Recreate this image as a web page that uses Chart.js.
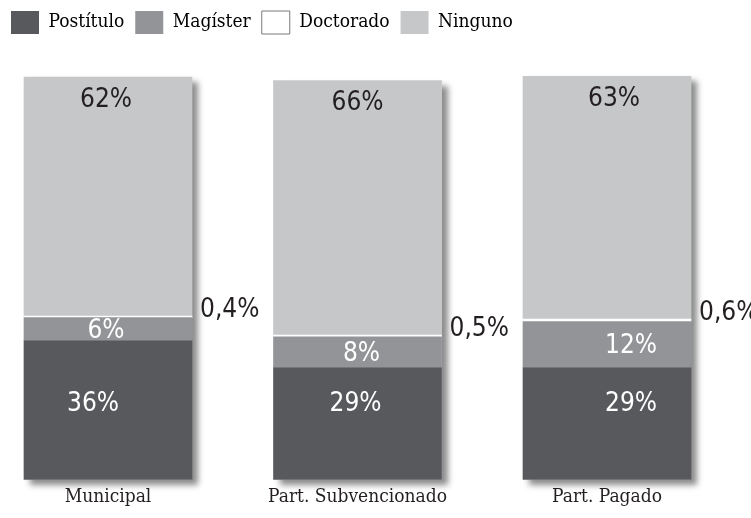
<!DOCTYPE html>
<html>
<head>
<meta charset="utf-8">
<script src="https://cdn.jsdelivr.net/npm/chart.js@4"></script>
<style>
  html, body { margin: 0; padding: 0; background: #fff; }
  #wrap { width: 751px; height: 518px; }
</style>
</head>
<body>
<div id="wrap"><canvas id="chart" width="751" height="518"></canvas></div>
<script>
const categories = ["Municipal", "Part. Subvencionado", "Part. Pagado"];
const postitulo = [36, 29, 29];
const magister = [6, 8, 12];
const doctorado = [0.4, 0.5, 0.6];
const ninguno = [62, 66, 63];

const serieNames = ["Postítulo", "Magíster", "Doctorado", "Ninguno"];
const colors = ["#58595d", "#939497", "#ffffff", "#c6c7c9"];

const labelFont = "'Liberation Sans Narrow', 'DejaVu Sans Condensed', sans-serif";
const slabFont = "'DejaVu Serif Condensed', 'DejaVu Serif', serif";

function fmt(v) {
  return String(v).replace(".", ",") + "%";
}

// sombra detras de cada columna apilada
const shadowPlugin = {
  id: "barShadow",
  beforeDatasetsDraw(chart) {
    const ctx = chart.ctx;
    const first = chart.getDatasetMeta(0).data;
    const last = chart.getDatasetMeta(chart.data.datasets.length - 1).data;
    ctx.save();
    ctx.shadowColor = "rgba(0,0,0,0.45)";
    ctx.shadowBlur = 6;
    ctx.shadowOffsetX = 6;
    ctx.shadowOffsetY = 5;
    ctx.fillStyle = "#fff";
    first.forEach((bar, i) => {
      const top = last[i].y;
      const bottom = bar.base;
      ctx.fillRect(bar.x - bar.width / 2, top, bar.width, bottom - top);
    });
    ctx.restore();
  }
};

// etiquetas de porcentaje
const valuePlugin = {
  id: "values",
  afterDatasetsDraw(chart, args, opts) {
    const ctx = chart.ctx;
    const y = chart.scales.y;
    ctx.save();
    ctx.font = "26px " + labelFont;
    ctx.textAlign = "center";
    ctx.textBaseline = "middle";
    const metas = [0, 1, 2, 3].map(i => chart.getDatasetMeta(i).data);
    categories.forEach((c, i) => {
      const nudge = opts.nudge[i];
      const p = metas[0][i], m = metas[1][i], d = metas[2][i], n = metas[3][i];
      // Postítulo
      ctx.fillStyle = "#fff";
      ctx.fillText(fmt(postitulo[i]), p.x + nudge[0], y.getPixelForValue(20) + 2);
      // Magíster
      ctx.fillText(fmt(magister[i]), m.x + nudge[1], (m.y + m.base) / 2 + 2);
      // Ninguno
      ctx.fillStyle = "#231f20";
      ctx.fillText(fmt(ninguno[i]), n.x + nudge[2], n.y + 23);
      // Doctorado, fuera de la barra
      ctx.textAlign = "left";
      ctx.fillText(fmt(doctorado[i]), d.x + d.width / 2 + 8, d.y - 6);
      ctx.textAlign = "center";
    });
    ctx.restore();
  }
};

const datasets = [postitulo, magister, doctorado, ninguno].map((vals, i) => ({
  label: serieNames[i],
  data: vals,
  backgroundColor: colors[i],
  borderWidth: 0,
  barThickness: 168,
  clip: false,
  stack: "s"
}));

// ejes invisibles que reservan el margen izquierdo y derecho
const spacer = (w, pos) => ({
  position: pos,
  display: true,
  grid: { display: false },
  border: { display: false },
  ticks: { display: false },
  afterFit(scale) { scale.width = w; }
});

new Chart(document.getElementById("chart"), {
  type: "bar",
  data: { labels: categories, datasets },
  plugins: [shadowPlugin, valuePlugin],
  options: {
    responsive: false,
    animation: false,
    layout: { padding: { left: 0, right: 0, top: 0, bottom: 3 } },
    scales: {
      x: {
        stacked: true,
        offset: false,
        grid: { display: false, drawTicks: false, tickLength: 0 },
        border: { display: false },
        ticks: {
          color: "#231f20",
          font: { family: slabFont, size: 19, lineHeight: 0.5 },
          padding: 13,
          maxRotation: 0,
          autoSkip: false
        }
      },
      y: Object.assign(spacer(108, "left"), { stacked: true, min: 0, max: 113 }),
      yRight: spacer(144, "right")
    },
    plugins: {
      legend: {
        position: "top",
        align: "start",
        labels: {
          boxWidth: 28,
          boxHeight: 23,
          padding: 11,
          color: "#231f20",
          font: { family: slabFont, size: 19 },
          generateLabels(chart) {
            return chart.data.datasets.map((ds, i) => ({
              text: ds.label,
              fillStyle: colors[i],
              strokeStyle: i === 2 ? "#7a7a7a" : colors[i],
              lineWidth: i === 2 ? 1 : 0,
              datasetIndex: i
            }));
          }
        }
      },
      tooltip: { enabled: false },
      values: { nudge: [[-15, -2, -2], [-2, 4, 0], [24, 24, 7]] }
    }
  }
});
</script>
</body>
</html>
